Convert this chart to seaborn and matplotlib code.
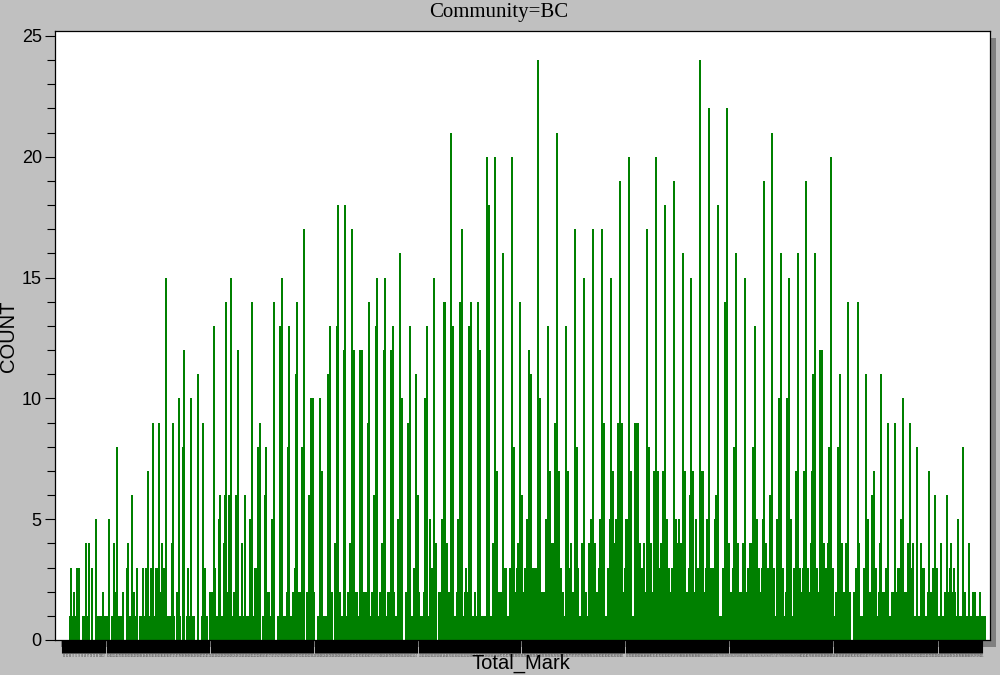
#%% Libraries
import pandas as pd
import seaborn as sns
import matplotlib.pyplot as plt
from matplotlib.patches import Rectangle

#%% Data
# counts >= 1 everywhere inside these runs (start, end)
runs1_start = [69, 82, 91, 95, 111, 126, 139, 176, 182, 186, 197, 201, 209, 262, 277, 306, 317, 334, 405, 438, 853]
runs1_end = [80, 90, 93, 110, 124, 138, 175, 181, 185, 195, 199, 208, 261, 275, 305, 315, 333, 403, 437, 851, 986]

# counts >= 2
runs2_start = [209, 225, 233, 264, 286, 292, 306, 330, 334, 347, 359, 371, 379, 387, 397, 405, 413, 423, 429, 438, 456,
               464, 474, 477, 486, 492, 509, 565, 581, 588, 607, 634, 652, 678, 686, 722, 776, 785, 793, 801, 835, 853,
               863, 878, 891, 927, 944]
runs2_end = [213, 232, 235, 270, 288, 305, 315, 333, 341, 358, 370, 378, 386, 395, 403, 411, 420, 428, 437, 454, 463,
             472, 476, 481, 490, 507, 564, 579, 587, 605, 632, 651, 677, 685, 719, 775, 784, 792, 800, 834, 851, 858,
             877, 889, 914, 938, 956]

# counts >= 3
runs3_start = [465, 502, 509, 516, 524, 545, 565, 574, 581, 588, 598, 607, 624, 634, 646, 653, 671, 678, 688, 698, 705,
               722, 732, 747, 761, 793, 802, 810, 820, 863, 885, 897, 907, 920, 932, 949]
runs3_end = [467, 507, 515, 523, 541, 562, 572, 579, 585, 596, 605, 623, 632, 645, 651, 670, 677, 685, 694, 704, 719,
             730, 739, 760, 775, 800, 809, 818, 834, 867, 889, 901, 914, 925, 938, 952]

# single marks that stand above the runs
marks_a = [70, 73, 76, 78, 85, 88, 91, 95, 102, 108, 113, 115, 116, 122, 126, 127, 131, 133, 136, 142, 145, 147, 150,
           152, 155, 156, 158, 160, 161, 163, 165, 171, 172, 176, 178, 182, 183, 187, 190, 197]
counts_a = [3, 2, 3, 3, 4, 4, 3, 5, 2, 5, 4, 2, 8, 2, 3, 4, 6, 2, 3, 3, 3, 7, 3,
            9, 3, 3, 9, 2, 4, 3, 15, 4, 9, 2, 10, 8, 12, 3, 10, 11]

marks_b = [202, 203, 204, 213, 214, 218, 219, 223, 224, 225, 228, 230, 235, 237, 241, 244, 249, 251, 254, 255, 257,
           259, 264, 265, 271, 273, 279, 281, 287, 288, 294, 295, 296, 301, 303, 308, 310, 312, 319, 321, 327, 329]
counts_b = [9, 3, 3, 13, 3, 5, 6, 4, 6, 14, 6, 15, 6, 12, 4, 6, 5, 14, 3, 3, 8,
            9, 6, 8, 5, 14, 13, 15, 8, 13, 3, 11, 14, 8, 17, 6, 10, 10, 10, 7, 11, 13]

marks_c = [334, 336, 337, 343, 344, 349, 351, 353, 359, 361, 367, 368, 373, 375, 376, 381, 383, 384, 390, 392, 397,
           399, 401, 407, 409, 413, 415, 417, 424, 426, 429, 431, 433, 435, 441, 443, 444, 446, 450, 452, 457, 459,
           461, 468, 470, 477, 479, 486, 488, 492, 494, 496, 502, 504, 511, 513, 517, 519]
counts_c = [4, 13, 18, 12, 18, 4, 17, 12, 12, 12, 9, 14, 6, 13, 15, 4, 12, 15, 12, 13, 5,
            16, 10, 9, 13, 3, 11, 6, 10, 13, 5, 3, 15, 4, 5, 14, 14, 4, 21, 13, 5, 14,
            17, 13, 14, 14, 12, 20, 18, 4, 20, 7, 16, 3, 20, 8, 4, 14]

marks_d = [521, 524, 526, 528, 530, 532, 534, 537, 539, 545, 547, 549, 551, 552, 553, 554, 556, 558, 560, 565, 567,
           569, 570, 574, 576, 581, 583, 588, 590, 592, 594, 598, 599, 601, 603, 607, 609, 610, 612, 614, 615, 617,
           619, 621, 625, 626, 628, 630, 634, 636, 637, 639, 640, 643, 646, 648, 650, 653, 655, 657, 660, 662, 664,
           666, 668, 671, 673, 675, 676, 678, 680, 682, 684, 688, 689, 690, 692, 695, 697, 699, 701, 702, 705, 706,
           708, 710, 712, 714, 715, 717, 722, 724, 726, 728, 732, 733, 735, 737, 742, 744, 747, 749]
counts_d = [6, 3, 5, 12, 11, 3, 3, 24, 10, 5, 13, 7, 4, 3, 4, 9, 21, 7, 3, 13, 7,
            3, 4, 17, 8, 4, 15, 4, 5, 17, 4, 3, 5, 17, 9, 3, 5, 15, 7, 4, 5, 9,
            19, 9, 5, 5, 20, 7, 9, 9, 9, 4, 3, 4, 17, 8, 4, 7, 20, 7, 4, 7, 18,
            5, 3, 3, 19, 5, 4, 5, 4, 16, 7, 3, 6, 15, 7, 5, 3, 24, 7, 7, 3, 5,
            22, 3, 3, 5, 6, 18, 3, 14, 22, 4, 3, 8, 16, 4, 4, 15, 3, 4]

marks_e = [750, 752, 754, 756, 758, 762, 763, 765, 769, 771, 773, 776, 778, 780, 782, 786, 788, 790, 793, 795, 797,
           799, 803, 805, 807, 810, 811, 812, 814, 816, 819, 821, 823, 825, 827, 828, 830, 837, 839, 841, 845, 847,
           855, 857, 858, 865, 867, 871, 873, 875, 879, 880, 885, 887, 891, 894, 897, 900, 902, 904, 907, 909, 912,
           916, 920, 922, 928, 932, 934, 940, 946, 950, 953, 957, 962, 964, 968, 972, 974, 979]
counts_e = [4, 8, 13, 5, 3, 5, 19, 4, 6, 21, 3, 5, 10, 16, 3, 10, 15, 5, 3, 7, 16,
            3, 7, 19, 3, 4, 7, 11, 16, 3, 12, 12, 4, 3, 4, 8, 20, 8, 11, 4, 4, 14,
            3, 14, 4, 11, 5, 6, 7, 3, 4, 11, 3, 9, 2, 9, 3, 5, 10, 2, 4, 9, 4,
            8, 4, 3, 7, 3, 6, 4, 6, 4, 3, 5, 8, 2, 4, 2, 2, 2]

# tick marks that show as grey breaks in the black band
band_breaks = [105, 209, 313, 417, 520, 624, 728, 832, 937]

#%% Build the table
totals = {}
for level, starts, ends in [(1, runs1_start, runs1_end), (2, runs2_start, runs2_end), (3, runs3_start, runs3_end)]:
    for s, e in zip(starts, ends):
        for m in range(s, e - 1):
            totals[m] = level

for marks, counts in [(marks_a, counts_a), (marks_b, counts_b), (marks_c, counts_c),
                      (marks_d, counts_d), (marks_e, counts_e)]:
    for m, c in zip(marks, counts):
        totals[m] = max(c, totals.get(m, 0))

df = pd.DataFrame(sorted(totals.items()), columns=['Total_Mark', 'COUNT'])

#%% Plot
plt.rcParams['font.family'] = ['Liberation Sans', 'DejaVu Sans']
fig = plt.figure(figsize=(10, 6.75), dpi=100, facecolor='#C0C0C0')
ax = fig.add_axes([55 / 1000, 35 / 675, 935 / 1000, 609 / 675])

# drop shadow behind the plot area
fig.add_artist(Rectangle((61 / 1000, 28 / 675), 935 / 1000, 609 / 675, transform=fig.transFigure,
                         facecolor='#808080', edgecolor='none', zorder=-5))
ax.set_zorder(2)

sns.barplot(data=df, x='Total_Mark', y='COUNT', native_scale=True, width=2, color='#008000',
            saturation=1, errorbar=None, ax=ax)
for bar in ax.patches:
    bar.set_antialiased(False)
    bar.set_linewidth(0)

ax.set_xlim(54, 989)
ax.set_ylim(0, 25.2)

ax.set_yticks([0, 5, 10, 15, 20, 25])
ax.set_yticks(range(0, 26), minor=True)
ax.tick_params(axis='y', which='major', length=7.5, width=0.8, labelsize=13, pad=2)
ax.tick_params(axis='y', which='minor', length=6, width=0.8)

tick_marks = [m for m in range(61, 982) if m not in band_breaks]
ax.set_xticks(tick_marks)
ax.set_xticklabels([str(m) if m % 3 == 0 else '' for m in tick_marks], fontsize=2, color='#505050')
ax.tick_params(axis='x', length=9.4, width=0.8, pad=0.8, color='black')

ax.set_xlabel('Total_Mark', fontsize=14.5, va='top')
ax.xaxis.set_label_coords((521 - 55) / 935, -14 / 609)
ax.set_ylabel('COUNT', fontsize=14.5, va='bottom')
ax.yaxis.set_label_coords(-37 / 935, (640 - 336) / 609)
ax.set_title('Community=BC', fontsize=15, family=['Liberation Serif'], pad=10, x=(499 - 55) / 935)

for side in ax.spines.values():
    side.set_linewidth(0.9)

plt.savefig('out.png', dpi=100, facecolor=fig.get_facecolor())
